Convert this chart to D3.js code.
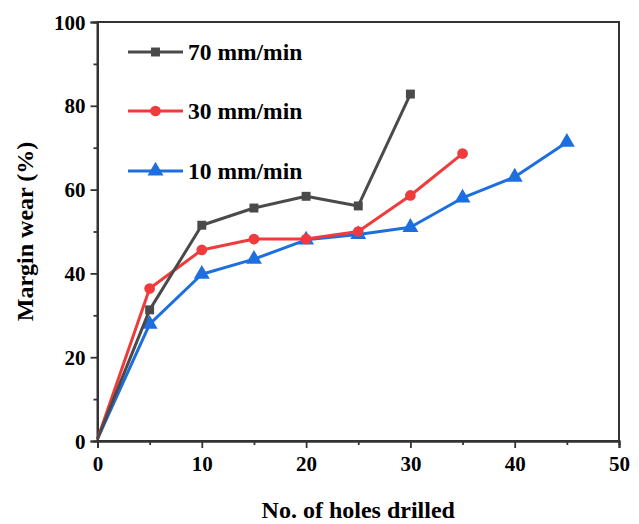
<!DOCTYPE html>
<html>
<head>
<meta charset="utf-8">
<script src="https://cdn.jsdelivr.net/npm/d3@7"></script>
<style>
  body{margin:0;background:#fff;}
  svg text{font-family:"Liberation Serif","Times New Roman",serif;font-weight:bold;fill:#000;}
</style>
</head>
<body>
<svg width="639" height="524"></svg>
<script>
// data
var holes=[0,5,10,15,20,25,30,35,40,45];
var wear70=[0.5,31.3,51.5,55.6,58.4,56.1,82.8];
var wear30=[0.5,36.4,45.6,48.2,48.2,50.0,58.6,68.6];
var wear10=[0.5,27.9,39.8,43.4,48.0,49.3,51.0,58.0,63.0,71.3];
var xTicks=[0,10,20,30,40,50];
var yTicks=[0,20,40,60,80,100];
var seriesNames=["70 mm/min","30 mm/min","10 mm/min"];
var seriesColors=["#4a4a4a","#ef3b3b","#1d6fe0"];
var seriesShapes=[d3.symbolSquare,d3.symbolCircle,d3.symbolTriangle];

var drawGraph=function(){
  let svg=d3.select('svg');
  let margin={top:22,left:97.5,right:20,bottom:83};
  let plotWidth=639-margin.left-margin.right;
  let plotHeight=524-margin.top-margin.bottom;

  let x=d3.scaleLinear().domain([0,50]).range([0,plotWidth]);
  let y=d3.scaleLinear().domain([0,100]).range([plotHeight,0]);

  let plot=svg.append('g').attr('transform','translate('+margin.left+','+margin.top+')');

  // frame
  plot.append('rect').attr('width',plotWidth).attr('height',plotHeight)
    .attr('fill','none').attr('stroke','#333').attr('stroke-width',2);

  // minor ticks
  let xMinor=plot.append('g').attr('transform','translate(0,'+plotHeight+')')
    .call(d3.axisBottom(x).tickValues(d3.range(5,50,10)).tickSize(4).tickFormat(''));
  let yMinor=plot.append('g')
    .call(d3.axisLeft(y).tickValues(d3.range(10,100,20)).tickSize(4).tickFormat(''));

  let xAxis=plot.append('g').attr('transform','translate(0,'+plotHeight+')')
    .call(d3.axisBottom(x).tickValues(xTicks).tickSize(7).tickPadding(5));
  let yAxis=plot.append('g')
    .call(d3.axisLeft(y).tickValues(yTicks).tickSize(7).tickPadding(5));

  [xMinor,yMinor,xAxis,yAxis].forEach(function(g){
    g.select('.domain').attr('stroke','#333').attr('stroke-width',2);
    g.selectAll('.tick line').attr('stroke','#333').attr('stroke-width',1.8);
  });
  xAxis.selectAll('text').style('font-size','21px').attr('dy','0.85em');
  yAxis.selectAll('text').style('font-size','21px').attr('dy','0.34em');

  // axis titles
  svg.append('text').text('No. of holes drilled')
    .attr('x',margin.left+plotWidth/2).attr('y',518)
    .attr('text-anchor','middle').style('font-size','24px');
  svg.append('text').text('Margin wear (%)')
    .attr('text-anchor','middle')
    .attr('transform','translate(33,'+(margin.top+plotHeight/2)+')rotate(-90)')
    .style('font-size','24px');

  let allSeries=[wear70,wear30,wear10];
  let line=d3.line().x(function(d,i){return x(holes[i]);}).y(function(d){return y(d);});

  for(var k=allSeries.length-1;k>=0;k--){
    let s=allSeries[k];
    plot.append('path').datum(s).attr('d',line)
      .attr('fill','none').attr('stroke',seriesColors[k]).attr('stroke-width',3)
      .attr('stroke-linejoin','round');
    let sym=d3.symbol().type(seriesShapes[k]).size(k==2?110:k==1?90:80);
    plot.selectAll('path.m'+k).data(s.slice(1)).enter().append('path')
      .attr('class','m'+k)
      .attr('d',sym)
      .attr('transform',function(d,i){return 'translate('+x(holes[i+1])+','+y(d)+')';})
      .attr('fill',seriesColors[k]);
  }

  // legend
  let legendY=[52,111,171];
  seriesNames.forEach(function(name,k){
    let g=svg.append('g').attr('transform','translate(128,'+legendY[k]+')');
    g.append('line').attr('x1',0).attr('x2',55).attr('stroke',seriesColors[k]).attr('stroke-width',3);
    g.append('path').attr('d',d3.symbol().type(seriesShapes[k]).size(k==2?110:k==1?90:80))
      .attr('transform','translate(27.5,0)').attr('fill',seriesColors[k]);
    g.append('text').text(name).attr('x',60).attr('dy','0.35em').style('font-size','23.5px');
  });
};
drawGraph();
</script>
</body>
</html>
